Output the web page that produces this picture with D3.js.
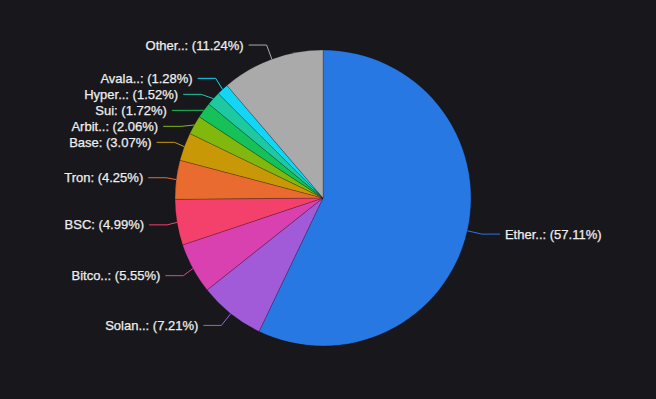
<!DOCTYPE html>
<html>
<head>
<meta charset="utf-8">
<script src="https://cdn.jsdelivr.net/npm/d3@7"></script>
<style>
  html, body { margin: 0; padding: 0; background: #18181c; }
  svg { display: block; }
</style>
</head>
<body>
<script>
// ---- data ----
const categories = ["Ether..", "Solan..", "Bitco..", "BSC", "Tron", "Base", "Arbit..", "Sui", "Hyper..", "Avala..", "Other.."];
const shares = [57.11, 7.21, 5.55, 4.99, 4.25, 3.07, 2.06, 1.72, 1.52, 1.28, 11.24];
const colors = ["#2878e4", "#a15ad8", "#d940b0", "#f3416c", "#ea6b2f", "#c99806", "#82b80e", "#16c15a", "#1ec9a2", "#14d5f5", "#aaaaaa"];

// ---- layout ----
const W = 656, H = 399;
const cx = 323, cy = 198, r = 148;
const len1 = 15, len2 = 18, gap = 5, lh = 16;

const data = categories.map((c, i) => ({ name: c, value: shares[i], color: colors[i] }));

const svg = d3.select("body").append("svg").attr("width", W).attr("height", H);
svg.append("rect").attr("width", W).attr("height", H).attr("fill", "#18181c");

const pie = d3.pie().sort(null).value(d => d.value);
const arcs = pie(data);
const arc = d3.arc().innerRadius(0).outerRadius(r);

const g = svg.append("g").attr("transform", `translate(${cx},${cy})`);
g.selectAll("path.slice").data(arcs).join("path")
  .attr("class", "slice")
  .attr("d", arc)
  .attr("fill", d => d.data.color)
  .attr("stroke", "rgba(0,0,0,0.35)")
  .attr("stroke-width", 0.6);

// label positions (outer labels with leader lines, overlap shifted)
const items = arcs.map(a => {
  const m = (a.startAngle + a.endAngle) / 2;
  const dx = Math.sin(m), dy = -Math.cos(m);
  const dir = dx < 0 ? -1 : 1;
  const x1 = cx + r * dx, y1 = cy + r * dy;
  const x2 = cx + (r + len1) * dx, y2 = cy + (r + len1) * dy;
  const x3 = x2 + dir * len2;
  return { a, dir, x1, y1, x2, y2, lx: x3 + dir * gap, ly: y2 };
});

[-1, 1].forEach(dir => {
  const list = items.filter(d => d.dir === dir).sort((p, q) => p.ly - q.ly);
  if (list.length < 2) return;
  let last = -Infinity, adjusted = false;
  list.forEach(d => {
    const top = d.ly - lh / 2;
    if (top < last) { d.ly += last - top; adjusted = true; }
    last = d.ly + lh / 2;
  });
  if (!adjusted) return;
  const rA = r + len1;
  [false, true].forEach(bottom => {
    const sl = list.filter(d => bottom ? d.ly > cy : d.ly <= cy);
    if (!sl.length) return;
    let maxY = 0, rB = rA;
    sl.forEach(d => {
      const ddy = Math.abs(d.ly - cy);
      if (ddy >= maxY) {
        const ddx = d.lx - cx - len2 * dir;
        rB = Math.abs(ddx) < rA ? Math.sqrt(ddy * ddy / (1 - ddx * ddx / rA / rA)) : rA;
        maxY = ddy;
      }
    });
    sl.forEach(d => {
      const ddy = Math.abs(d.ly - cy);
      const ex = Math.sqrt(Math.max(0, 1 - ddy * ddy / (rB * rB))) * rA;
      d.lx = cx + (ex + len2) * dir;
    });
  });
});

items.forEach(d => {
  d.x3 = d.lx - d.dir * gap;
  d.bx = d.x3 - d.dir * len2;
});

svg.append("g").selectAll("path").data(items).join("path")
  .attr("d", d => `M${d.x1},${d.y1}L${d.bx},${d.ly}L${d.x3},${d.ly}`)
  .attr("fill", "none")
  .attr("stroke", d => d.a.data.color)
  .attr("stroke-width", 1);

svg.append("g").selectAll("text").data(items).join("text")
  .attr("x", d => d.lx)
  .attr("y", d => d.ly)
  .attr("text-anchor", d => d.dir < 0 ? "end" : "start")
  .attr("dominant-baseline", "central")
  .attr("font-family", "'Liberation Sans', Arial, sans-serif")
  .attr("font-size", 13)
  .attr("fill", "#eeeeee")
  .attr("stroke", "#eeeeee")
  .attr("stroke-width", 0.25)
  .text(d => `${d.a.data.name}: (${d.a.data.value.toFixed(2)}%)`);
</script>
</body>
</html>
